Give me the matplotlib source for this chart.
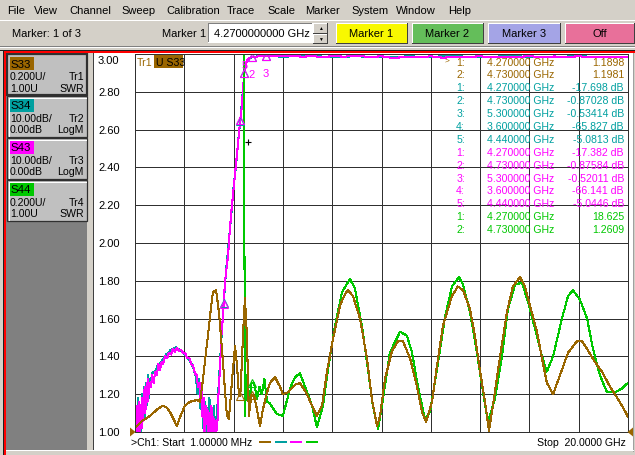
import numpy as np
import matplotlib
matplotlib.use('Agg')
import matplotlib.pyplot as plt
from matplotlib.patches import Rectangle, Polygon

plt.rcParams['font.family'] = ['Liberation Sans', 'DejaVu Sans']
plt.rcParams['font.size'] = 7.6

W, H = 635, 456
FACE = '#D4D0C8'
BROWN = '#9A6600'
TEAL = '#00A0A0'
MAGENTA = '#FF00FF'
GREEN = '#00C800'
GRID = '#303030'

# sweep / scale settings
f_start, f_stop = 0.001, 20.0          # GHz
swr_bottom, swr_top, swr_per_div = 1.0, 3.0, 0.2
db_ref, db_per_div = 0.0, 10.0

# Tr1  S33  SWR
s33_f = [0.001, 0.30, 0.61, 0.90, 1.14, 1.28, 1.42, 1.56, 1.70, 1.86,
         2.03, 2.23, 2.40, 2.52, 2.64, 2.76, 2.86, 2.96, 3.06, 3.16,
         3.29, 3.41, 3.49, 3.57, 3.65, 3.73, 3.81, 3.88, 3.94, 4.06,
         4.14, 4.22, 4.27, 4.33, 4.38, 4.46, 4.54, 4.62, 4.68, 4.73,
         4.83, 4.95, 5.07, 5.19, 5.36, 5.48, 5.68, 5.88, 6.00, 6.21,
         6.49, 6.69, 6.98, 7.18, 7.38, 7.59, 7.79, 8.03, 8.32, 8.52,
         8.64, 8.84, 9.13, 9.41, 9.61, 9.82, 9.94, 10.14, 10.43, 10.67,
         10.87, 11.16, 11.44, 11.64, 11.81, 12.05, 12.25, 12.49, 12.86, 13.10,
         13.31, 13.59, 13.79, 14.00, 14.20, 14.36, 14.52, 14.81, 15.09, 15.33,
         15.62, 15.82, 16.02, 16.31, 16.51, 16.71, 16.96, 17.24, 17.57, 17.93,
         18.13, 18.34, 18.66, 18.94, 19.27, 19.59, 19.80, 20.0]
s33_v = [1.02, 1.06, 1.085, 1.12, 1.14, 1.13, 1.106, 1.07, 1.03, 1.09,
         1.14, 1.16, 1.165, 1.17, 1.16, 1.28, 1.40, 1.51, 1.63, 1.74,
         1.75, 1.63, 1.50, 1.37, 1.22, 1.085, 1.07, 1.18, 1.28, 1.455,
         1.35, 1.19, 1.1898, 1.35, 1.51, 1.71, 1.51, 1.085, 1.15, 1.1981,
         1.19, 1.12, 1.03, 1.12, 1.21, 1.26, 1.29, 1.24, 1.20, 1.21,
         1.25, 1.26, 1.20, 1.14, 1.085, 1.14, 1.32, 1.49, 1.67, 1.73,
         1.75, 1.72, 1.60, 1.39, 1.175, 1.03, 1.085, 1.28, 1.43, 1.48,
         1.48, 1.39, 1.24, 1.106, 1.053, 1.16, 1.35, 1.56, 1.72, 1.77,
         1.75, 1.65, 1.51, 1.32, 1.16, 1.005, 1.14, 1.40, 1.635, 1.77,
         1.82, 1.77, 1.67, 1.53, 1.39, 1.26, 1.20, 1.30, 1.42, 1.48,
         1.48, 1.44, 1.37, 1.32, 1.24, 1.175, 1.13, 1.08]

# Tr2  S34  LogM (dB)
s34_f = [0.001, 0.04, 0.08, 0.12, 0.16, 0.20, 0.24, 0.28, 0.32, 0.36,
         0.40, 0.44, 0.48, 0.52, 0.56, 0.60, 0.66, 0.72, 0.80, 0.88,
         0.96, 1.06, 1.16, 1.26, 1.36, 1.46, 1.56, 1.66, 1.76, 1.86,
         1.96, 2.06, 2.16, 2.26, 2.36, 2.46, 2.54, 2.60, 2.66, 2.72,
         2.78, 2.84, 2.90, 2.96, 3.02, 3.08, 3.14, 3.20, 3.26, 3.32,
         3.40, 3.50, 3.60, 3.70, 3.80, 3.90, 4.00, 4.10, 4.20, 4.27,
         4.36, 4.44, 4.55, 4.73, 5.00, 5.30, 6.0, 7.0, 8.0, 9.0,
         10.0, 11.0, 12.0, 13.0, 14.0, 15.0, 16.0, 17.0, 18.0, 19.0, 20.0]
s34_db = [-101, -93, -104, -91, -99, -95, -103, -90, -97, -88,
          -96, -87, -93, -85, -91, -86, -86, -84, -84.5, -83,
          -82, -81.5, -80.5, -79.5, -79, -78.2, -77.9, -77.6, -78, -78.4,
          -79, -79.8, -80.6, -81.5, -83, -85, -90, -86, -94, -88,
          -99, -92, -102, -95, -91, -105, -97, -93, -102, -96,
          -87, -76, -65.827, -57, -50, -43, -35, -29.5, -22, -17.698,
          -11, -5.0813, -1.5, -0.87028, -0.6, -0.53414, -0.7, -0.5, -0.8, -0.6,
          -0.9, -0.65, -0.7, -0.6, -0.85, -0.6, -0.7, -0.75, -0.6, -0.8, -0.7]

# Tr3  S43  LogM (dB)
s43_f = [0.001, 0.03, 0.06, 0.09, 0.12, 0.15, 0.18, 0.21, 0.24, 0.27,
         0.30, 0.33, 0.36, 0.39, 0.42, 0.45, 0.48, 0.51, 0.54, 0.57,
         0.60, 0.65, 0.70, 0.76, 0.82, 0.89, 0.95, 1.02, 1.08, 1.14,
         1.22, 1.30, 1.38, 1.46, 1.54, 1.62, 1.70, 1.78, 1.86, 1.95,
         2.04, 2.12, 2.20, 2.28, 2.36, 2.43, 2.50, 2.56, 2.62, 2.66,
         2.70, 2.74, 2.78, 2.82, 2.86, 2.90, 2.94, 2.98, 3.02, 3.06,
         3.10, 3.14, 3.18, 3.22, 3.26, 3.30, 3.34, 3.40, 3.45, 3.50,
         3.55, 3.60, 3.65, 3.70, 3.78, 3.85, 3.92, 3.98, 4.04, 4.10,
         4.18, 4.27, 4.34, 4.38, 4.44, 4.50, 4.58, 4.65, 4.73, 4.90,
         5.10, 5.30, 5.60, 6.00, 6.40, 6.80, 7.20, 7.60, 8.00, 8.50,
         9.00, 9.50, 10.0, 10.5, 11.0, 11.5, 12.0, 12.5, 13.0, 13.5,
         14.0, 14.5, 15.0, 15.5, 16.0, 16.5, 17.0, 17.5, 18.0, 18.5,
         19.0, 19.5, 20.0]
s43_db = [-104, -95, -102, -93, -103, -96, -92, -101, -94, -99,
          -91, -97, -89, -95, -88, -94, -87, -92, -86, -90,
          -87, -88, -85, -87, -84, -85, -82, -83.5, -81.5, -82,
          -80, -80.5, -79, -79.5, -78, -78.8, -77.8, -78.5, -78.2, -79,
          -79.2, -80.5, -80.3, -82, -82.5, -84.5, -85, -88, -87, -92,
          -89, -96, -91, -101, -93, -98, -94, -104, -95, -100,
          -93, -103, -96, -101, -97, -104, -98, -88, -83.3, -75,
          -70.9, -66.141, -60.3, -57.5, -53, -46.3, -41, -37, -33, -29,
          -23.8, -17.382, -13.8, -9.3, -5.0446, -2.6, -1.3, -1.0, -0.87584, -0.7,
          -0.6, -0.52011, -0.45, -0.6, -0.4, -0.75, -0.5, -0.9, -0.55, -0.7,
          -0.45, -0.8, -0.6, -1.1, -0.7, -0.9, -0.6, -1.0, -0.7, -0.8,
          -0.6, -0.9, -0.7, -0.8, -0.55, -0.9, -0.65, -0.8, -0.6, -0.85,
          -0.7, -0.75, -0.7]

# Tr4  S44  SWR
s44_f = [0.001, 1.0, 2.0, 3.0, 4.0, 4.27, 4.42, 4.46, 4.52, 4.58,
         4.65, 4.73, 4.83, 4.95, 5.05, 5.15, 5.25, 5.36, 5.48, 5.76,
         6.00, 6.29, 6.49, 6.69, 6.90, 7.18, 7.38, 7.63, 7.83, 8.11,
         8.40, 8.72, 8.92, 9.21, 9.45, 9.65, 9.86, 10.02, 10.34, 10.75,
         11.03, 11.24, 11.48, 11.76, 11.97, 12.25, 12.58, 12.86, 13.14, 13.31,
         13.59, 13.87, 14.12, 14.32, 14.60, 14.89, 15.13, 15.42, 15.70, 15.94,
         16.23, 16.51, 16.71, 16.96, 17.32, 17.57, 17.77, 18.05, 18.34, 18.58,
         18.86, 19.15, 19.47, 19.75, 20.0]
s44_v = [9.5, 11.0, 14.0, 16.5, 17.8, 18.625, 6.0, 1.085, 1.30, 1.26,
         1.15, 1.2609, 1.26, 1.175, 1.24, 1.20, 1.28, 1.16, 1.15, 1.095,
         1.085, 1.23, 1.29, 1.31, 1.24, 1.14, 1.026, 1.14, 1.33, 1.56,
         1.74, 1.81, 1.76, 1.56, 1.33, 1.14, 1.016, 1.14, 1.42, 1.53,
         1.51, 1.42, 1.24, 1.07, 1.106, 1.33, 1.61, 1.77, 1.82, 1.78,
         1.635, 1.42, 1.21, 1.053, 1.175, 1.40, 1.65, 1.78, 1.79, 1.69,
         1.545, 1.40, 1.32, 1.40, 1.60, 1.72, 1.75, 1.70, 1.60, 1.44,
         1.30, 1.21, 1.21, 1.23, 1.26]

# marker readouts
tr1_mk_f = [4.27, 4.73]
tr1_mk_v = [1.1898, 1.1981]
tr2_mk_f = [4.27, 4.73, 5.30, 3.60, 4.44]
tr2_mk_v = [-17.698, -0.87028, -0.53414, -65.827, -5.0813]
tr3_mk_f = [4.27, 4.73, 5.30, 3.60, 4.44]
tr3_mk_v = [-17.382, -0.87584, -0.52011, -66.141, -5.0446]
tr4_mk_f = [4.27, 4.73]
tr4_mk_v = [18.625, 1.2609]

menu_items = ['File', 'View', 'Channel', 'Sweep', 'Calibration', 'Trace',
              'Scale', 'Marker', 'System', 'Window', 'Help']
menu_x = [7, 34, 69, 121, 166, 227, 267, 305, 351, 396, 448]


def db_to_grid(db):
    return swr_top + (np.asarray(db, float) - db_ref) / db_per_div * swr_per_div


def clamp(v):
    return np.clip(np.asarray(v, float), swr_bottom, swr_top)


def px_line(a, xs, ys, c, lw=1):
    a.plot(xs, ys, color=c, lw=lw * 0.72, antialiased=False, solid_capstyle='butt')


def bevel(a, x0, y0, x1, y1, fc, up=True):
    a.add_patch(Rectangle((x0, y0), x1 - x0, y1 - y0, fc=fc, ec='none'))
    hi, lo = ('white', '#404040') if up else ('#808080', 'white')
    px_line(a, [x0, x1], [y0, y0], hi)
    px_line(a, [x0, x0], [y0, y1], hi)
    px_line(a, [x0, x1], [y1, y1], lo)
    px_line(a, [x1, x1], [y0, y1], lo)


fig = plt.figure(figsize=(W / 100, H / 100), dpi=100, facecolor=FACE)

bg = fig.add_axes([0, 0, 1, 1])
bg.set_xlim(0, W)
bg.set_ylim(H, 0)
bg.axis('off')

# menu bar
for t, x in zip(menu_items, menu_x):
    bg.text(x, 11, t, va='center', ha='left', fontsize=8)
px_line(bg, [0, W], [21, 21], 'white')

# toolbar
bg.text(12, 34, 'Marker: 1 of 3', va='center', fontsize=8)
bg.text(162, 34, 'Marker 1', va='center', fontsize=8)
bevel(bg, 208, 24, 312, 43, 'white', up=False)
bg.text(214, 34, '4.2700000000 GHz', va='center', fontsize=8)
bevel(bg, 313, 24, 327, 33.5, FACE)
bevel(bg, 313, 34.5, 327, 44, FACE)
bg.text(320, 29, '\u25b2', ha='center', va='center', fontsize=3.5)
bg.text(320, 39.5, '\u25bc', ha='center', va='center', fontsize=3.5)
for lbl, x0, x1, c in [('Marker 1', 336, 407, '#F8F800'),
                       ('Marker 2', 412, 483, '#64BE5A'),
                       ('Marker 3', 488, 560, '#A4A4E6'),
                       ('Off', 565, 634, '#E8709A')]:
    bevel(bg, x0, 24, x1, 44, c)
    bg.text((x0 + x1) / 2, 34, lbl, ha='center', va='center', fontsize=8)
px_line(bg, [0, W], [47, 47], '#808080')
px_line(bg, [0, W], [48, 48], 'white')

# channel window frame
px_line(bg, [0, W], [50.5, 50.5], '#202020')
px_line(bg, [3, W], [52.5, 52.5], 'red', lw=1.5)
px_line(bg, [3, 3], [51, H], '#202020')
px_line(bg, [4.6, 4.6], [52, H], 'red', lw=1.5)
bg.add_patch(Rectangle((6, 54), 81, 397, fc='#808080', ec='none'))
px_line(bg, [93, 93], [54, 451], '#404040')
bg.add_patch(Rectangle((94, 54), 539, 397, fc='white', ec='none'))
px_line(bg, [633, 633], [54, 452], '#A0A0A0')
px_line(bg, [6, 633], [451.5, 451.5], 'white')

# trace info boxes
boxes = [('S33', BROWN, '0.200U/', 'Tr1', '1.00U', 'SWR'),
         ('S34', TEAL, '10.00dB/', 'Tr2', '0.00dB', 'LogM'),
         ('S43', MAGENTA, '10.00dB/', 'Tr3', '0.00dB', 'LogM'),
         ('S44', GREEN, '0.200U/', 'Tr4', '1.00U', 'SWR')]
for i, (name, c, a1, b1, a2, b2) in enumerate(boxes):
    t0 = 55 + 42 * i
    bg.add_patch(Rectangle((7, t0), 80, 41, fc='#C0C0C0', ec='#303030',
                           lw=1.6 if i == 0 else 0.9))
    if i > 0:
        px_line(bg, [8.5, 85.5], [t0 + 1.5, t0 + 1.5], 'white')
        px_line(bg, [8.5, 8.5], [t0 + 1.5, t0 + 39.5], 'white')
    bg.add_patch(Rectangle((10, t0 + 3), 23.5, 12.5, fc=c, ec='none'))
    bg.text(10.5, t0 + 9.5, name, va='center', fontsize=8.2)
    bg.text(10, t0 + 22.5, a1, va='center')
    bg.text(84, t0 + 22.5, b1, va='center', ha='right')
    bg.text(10, t0 + 33.5, a2, va='center')
    bg.text(84, t0 + 33.5, b2, va='center', ha='right')

# plot grid
ax = fig.add_axes([135 / W, (H - 433) / H, 493 / W, 378 / H])
ax.set_facecolor('none')
ax.set_xlim(f_start, f_stop)
ax.set_ylim(swr_bottom, swr_top)
ax.set_xticks(np.linspace(f_start, f_stop, 11))
yt = np.round(np.arange(swr_bottom, swr_top + 1e-9, swr_per_div), 2)
ax.set_yticks(yt)
ax.grid(True, color=GRID, lw=0.72, antialiased=False)
ax.set_axisbelow(True)
ax.tick_params(length=0, labelbottom=False, labelleft=False)
for s in ax.spines.values():
    s.set_color(GRID)
    s.set_linewidth(0.72)

for v in yt:
    top_row = v == yt[-1]
    ax.annotate('%.2f' % v, (-37 / 493, v), xycoords=ax.get_yaxis_transform(),
                xytext=(0, -1 if top_row else 0), textcoords='offset points',
                va='top' if top_row else 'center', ha='left', fontsize=8,
                annotation_clip=False)

kw = dict(lw=0.75, antialiased=False)
ax.plot(s34_f, clamp(db_to_grid(s34_db)), color=TEAL, **kw)
ax.plot(s43_f, clamp(db_to_grid(s43_db)), color=MAGENTA, **kw)
ax.plot(s44_f, clamp(s44_v), color=GREEN, **kw)
ax.plot(s33_f, clamp(s33_v), color=BROWN, **kw)

mk = dict(marker='^', ms=6, mfc='none', mew=0.8, ls='none', antialiased=False)
ax.plot(tr2_mk_f, clamp(db_to_grid(tr2_mk_v)), color=TEAL, **mk)
ax.plot(tr3_mk_f, clamp(db_to_grid(tr3_mk_v)), color=MAGENTA, **mk)
ax.plot(tr1_mk_f, clamp(tr1_mk_v), color=BROWN, **mk)
ax.plot(tr4_mk_f[1:], clamp(tr4_mk_v[1:]), color=GREEN, **mk)
for n, dy in [(2, -12), (3, -12), (5, 6)]:
    ax.annotate(str(n), (tr3_mk_f[n - 1], db_to_grid(tr3_mk_v[n - 1])),
                xytext=(0, dy), textcoords='offset points', ha='center',
                va='center', color=MAGENTA, fontsize=8)

# overlay texts
top = fig.add_axes([0, 0, 1, 1])
top.set_xlim(0, W)
top.set_ylim(H, 0)
top.axis('off')
top.patch.set_alpha(0)

top.text(137, 62.5, 'Tr1', color=BROWN, va='center')
top.add_patch(Rectangle((154, 56), 29, 13, fc=BROWN, ec='none'))
top.text(155.5, 62.5, 'U S33', color='black', va='center')

rows = []
for trf, trv, unit, c in [(tr1_mk_f, tr1_mk_v, '', BROWN),
                          (tr2_mk_f, tr2_mk_v, ' dB', TEAL),
                          (tr3_mk_f, tr3_mk_v, ' dB', MAGENTA),
                          (tr4_mk_f, tr4_mk_v, '', GREEN)]:
    for n, (f, v) in enumerate(zip(trf, trv)):
        rows.append((n + 1, f, '{:.5g}'.format(v) + unit, c))
for k, (n, f, s, c) in enumerate(rows):
    y = 62.5 + 12.9 * k
    top.text(465, y, '%d:' % n, ha='right', va='center', color=c)
    top.text(487, y, '%.6f GHz' % f, ha='left', va='center', color=c)
    top.text(624, y, s, ha='right', va='center', color=c)
top.text(445, 61.5, '>', ha='left', va='center', color=BROWN, fontsize=6)

top.plot([248], [143], marker='+', ms=4, mew=0.8, color='black')
top.add_patch(Polygon([(130, 428.5), (135.5, 433), (130, 437.5)], closed=True,
                      fc=BROWN, ec='none'))
top.add_patch(Polygon([(633, 428.5), (627.5, 433), (633, 437.5)], closed=True,
                      fc=BROWN, ec='none'))

top.text(131, 443.5, '>Ch1: Start  1.00000 MHz', va='center')
for c, x0 in zip([BROWN, TEAL, MAGENTA, GREEN], [259, 275, 290, 306]):
    px_line(top, [x0, x0 + 12], [443.5, 443.5], c, lw=2)
top.text(626, 443.5, 'Stop  20.0000 GHz', va='center', ha='right')

fig.savefig('out.png', dpi=100, facecolor=FACE)
